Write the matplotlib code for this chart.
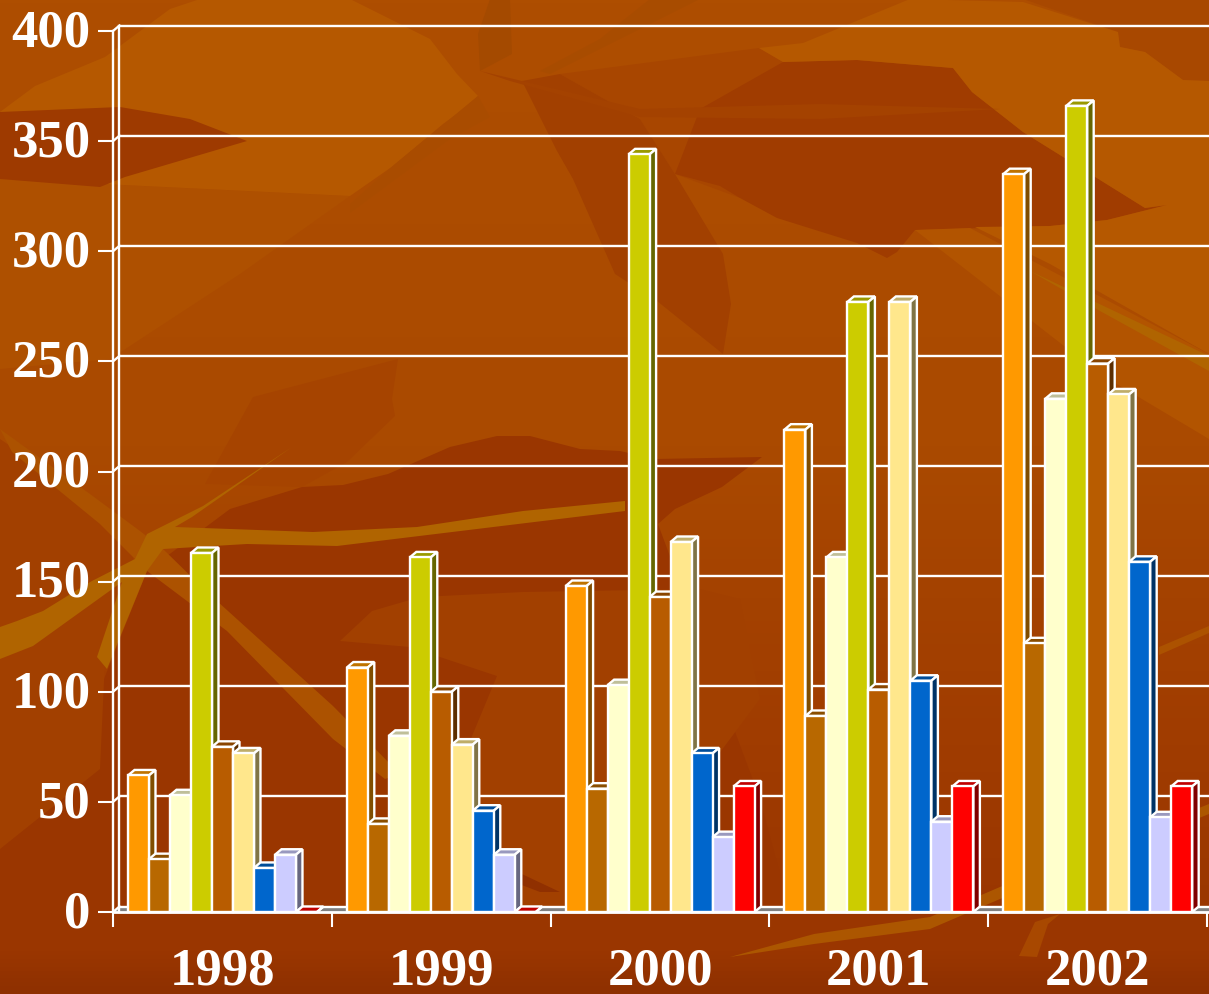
#! usr/bin/env python3

import numpy as np
import matplotlib
matplotlib.use('Agg')
import matplotlib.pyplot as plt
from matplotlib.colors import to_rgb, LinearSegmentedColormap
from matplotlib.patches import Polygon
from matplotlib.transforms import ScaledTranslation

years = ['1998', '1999', '2000', '2001', '2002']
yticks = [0, 50, 100, 150, 200, 250, 300, 350, 400]

s1 = [62, 111, 148, 219, 335]
s2 = [24, 40, 56, 89, 122]
s3 = [53, 80, 103, 161, 233]
s4 = [163, 161, 344, 277, 366]
s5 = [75, 100, 143, 101, 249]
s6 = [72, 76, 168, 277, 235]
s7 = [20, 46, 72, 105, 159]
s8 = [26, 26, 34, 41, 43]
s9 = [0, 0, 57, 57, 57]
series = [s1, s2, s3, s4, s5, s6, s7, s8, s9]
colors = ['#FF9900', '#B86800', '#FFFFCC', '#CCCC00', '#B85C00', '#FFE78C', '#0066CC', '#CCCCFF', '#FF0000']

W, H = 1209, 995
fig = plt.figure(figsize=(W/100, H/100), dpi=100)

# background picture: gradient + lighter and darker shapes, in pixels
bg = fig.add_axes([0, 0, 1, 1])
bg.set_xlim(0, W)
bg.set_ylim(H, 0)
bg.axis('off')
cmap = LinearSegmentedColormap.from_list('bg', [(0, '#AE4E00'), (0.45, '#AA4A00'), (0.6, '#A44200'), (0.75, '#A03C00'),
                                                (0.92, '#9A3600'), (0.96, '#9A3600'), (1, '#8E3000')])
bg.imshow(np.linspace(0, 1, 256).reshape(-1, 1), cmap=cmap, extent=(0, W, H, 0), aspect='auto', zorder=0)

light = '#B55800'
band = '#B06400'
dark = '#9A3600'
shapes = [
    # big dark area of the lower half
    ([(302, 488), (343, 486), (388, 475), (450, 448), (497, 437), (530, 437), (580, 450), (620, 452), (655, 460),
      (762, 458), (722, 488), (675, 510), (658, 525), (760, 800), (790, 912), (0, 912), (0, 720), (100, 690),
      (147, 572), (230, 510)], dark),
    # dark patch upper right and dark leaf
    ([(560, 75), (759, 49), (783, 63), (740, 199), (675, 175), (640, 120)], '#A84600'),
    ([(740, 199), (777, 219), (857, 244), (887, 259), (897, 253), (915, 231), (1050, 227), (1107, 221), (1167, 206),
      (1145, 209), (1023, 133), (972, 93), (953, 69), (857, 61), (783, 63), (700, 110), (675, 175), (720, 187)], '#A03C00'),
    ([(522, 82), (557, 152), (573, 180), (615, 275), (657, 302), (723, 355), (731, 305), (723, 255), (675, 175),
      (640, 120), (560, 75)], '#A24000'),
    ([(1209, 0), (1023, 0), (1118, 33), (1120, 48), (1145, 53), (1183, 81), (1209, 82)], '#A84800'),
    # light blobs
    ([(0, 180), (350, 197), (240, 275), (110, 360), (0, 370)], '#AE5000'),
    ([(0, 113), (35, 87), (105, 58), (170, 10), (200, 0), (350, 0), (430, 40), (457, 75), (478, 97), (457, 115),
      (443, 125), (393, 167), (350, 197), (0, 180)], light),
    ([(759, 49), (803, 44), (910, 0), (1023, 3), (1118, 33), (1120, 48), (1145, 53), (1183, 81), (1209, 82),
      (1209, 355), (1050, 265), (975, 228), (1050, 227), (1107, 221), (1167, 206), (1145, 209), (1023, 133),
      (972, 93), (953, 69), (857, 61), (783, 63)], light),
    ([(915, 231), (970, 229), (1209, 355), (1209, 440), (1100, 375)], '#B25400'),
    ([(0, 113), (120, 108), (190, 120), (247, 142), (125, 178), (100, 188), (0, 180)], '#9E3A00'),
    # slightly darker shapes
    ([(205, 485), (253, 398), (398, 360), (392, 400), (395, 417), (347, 463), (302, 488)], '#A64400'),
    ([(340, 642), (372, 612), (420, 598), (523, 593), (700, 590), (740, 600), (760, 700), (640, 860), (566, 912),
      (480, 912), (450, 790), (497, 677), (410, 648)], '#A24000'),
    ([(0, 440), (140, 535), (105, 660), (100, 770), (0, 850)], '#A24000'),
    # streaks in the top middle
    ([(350, 205), (395, 165), (478, 97), (490, 118), (450, 140), (350, 214)], '#A94C00'),
    ([(490, 0), (510, 0), (512, 55), (480, 72), (478, 35)], '#A44A00'),
    ([(540, 72), (600, 40), (650, 0), (700, 0), (620, 40), (550, 75)], '#A84C00'),
    ([(480, 72), (640, 110), (820, 105), (1000, 110), (820, 120), (640, 118), (510, 82)], '#A44200'),
    # bands
    ([(1030, 272), (1209, 357), (1209, 372), (1100, 312)], band),
    ([(0, 430), (90, 495), (140, 532), (163, 550), (207, 593), (333, 707), (400, 775), (385, 780),
      (333, 740), (227, 632), (147, 572), (100, 525), (12, 453)], '#AC5200'),
    ([(490, 860), (560, 893), (540, 893), (480, 870)], '#903000'),
    ([(0, 628), (17, 622), (43, 612), (90, 583), (135, 560), (147, 535), (203, 507), (292, 448), (192, 518),
      (175, 528), (313, 533), (417, 528), (523, 512), (625, 502), (625, 512), (337, 547), (247, 545), (163, 550),
      (147, 572), (107, 670), (97, 658), (122, 583), (33, 647), (0, 660)], band),
    ([(730, 958), (814, 935), (930, 918), (1000, 888), (1209, 805), (1209, 815), (1000, 900), (930, 930), (814, 945)], '#AC5600'),
    ([(1159, 648), (1209, 627), (1209, 634), (1159, 656)], '#AC5200'),
    ([(1019, 957), (1035, 923), (1060, 915), (1048, 925), (1037, 958)], '#A84800'),
]
for pts, c in shapes:
    bg.add_patch(Polygon(pts, closed=True, fc=c, ec='none', zorder=1))

# chart axes, pixel box of the front plane
ax = fig.add_axes([113/W, (H-913)/H, 1094/W, 881/H])
ax.patch.set_alpha(0)
ax.set_xlim(0, 5)
ax.set_ylim(0, 400)
for sp in ax.spines.values():
    sp.set_visible(False)

dx = 6.5/(1094/5)      # depth of the 3d look, in data units
dy = 5.5/(881/400)
lw = 1.7
xmax = (1209-113)/(1094/5)

# floor
ax.add_patch(Polygon([(0, 0), (dx, dy), (xmax, dy), (xmax, 0)], closed=True, fc='#808080', ec='none', clip_on=False, zorder=1))

# walls and grid
for v in yticks:
    ax.plot([dx, xmax], [v+dy, v+dy], color='white', lw=lw, clip_on=False, zorder=1.5, solid_capstyle='butt')
    ax.plot([0, dx], [v, v+dy], color='white', lw=lw, clip_on=False, zorder=1.5)
ax.plot([dx, dx], [0, 400+dy], color='white', lw=lw, clip_on=False, zorder=1.5)
ax.plot([0, 0], [0, 400], color='white', lw=lw, clip_on=False, zorder=1.5)
ax.plot([0, xmax], [0, 0], color='white', lw=lw+0.3, clip_on=False, zorder=6)

# bars, left to right so the next front covers the side of the one before
bw = 1/10.42
start = 15/(1094/5)
z = 2
for i in range(len(years)):
    for j, vals in enumerate(series):
        x0 = i + start + j*bw
        x1 = x0 + bw
        v = vals[i]
        rgb = np.array(to_rgb(colors[j]))
        ax.add_patch(Polygon([(x0, v), (x0+dx, v+dy), (x1+dx, v+dy), (x1, v)], closed=True, fc=rgb*0.75,
                             ec='white', lw=lw, clip_on=False, zorder=z))
        ax.add_patch(Polygon([(x1, 0), (x1+dx, dy), (x1+dx, v+dy), (x1, v)], closed=True, fc=rgb*0.5,
                             ec='white', lw=lw, clip_on=False, zorder=z))
        ax.bar(x0, v, width=bw, align='edge', color=colors[j], edgecolor='white', lw=lw, clip_on=False, zorder=z+0.1)
        z += 0.01

ax.set_xticks(range(6))
ax.set_xticklabels([])
ax.set_yticks(yticks)
ax.tick_params(axis='x', length=11, width=1.5, color='white', direction='out', pad=0)
ax.tick_params(axis='y', length=11, width=1.5, color='white', direction='out', pad=5, labelcolor='white')
up = ScaledTranslation(0, 3/72, fig.dpi_scale_trans)
for lab in ax.get_yticklabels():
    lab.set_fontfamily('Liberation Serif')
    lab.set_fontweight('bold')
    lab.set_fontsize(38)
    lab.set_transform(lab.get_transform() + up)
for i, y in enumerate(years):
    ax.annotate(y, xy=(i+0.5, 0), xytext=(0, -42), textcoords='offset points', ha='center', va='center',
                color='white', fontfamily='Liberation Serif', fontweight='bold', fontsize=38, annotation_clip=False)

fig.savefig('out.png', dpi=100)
